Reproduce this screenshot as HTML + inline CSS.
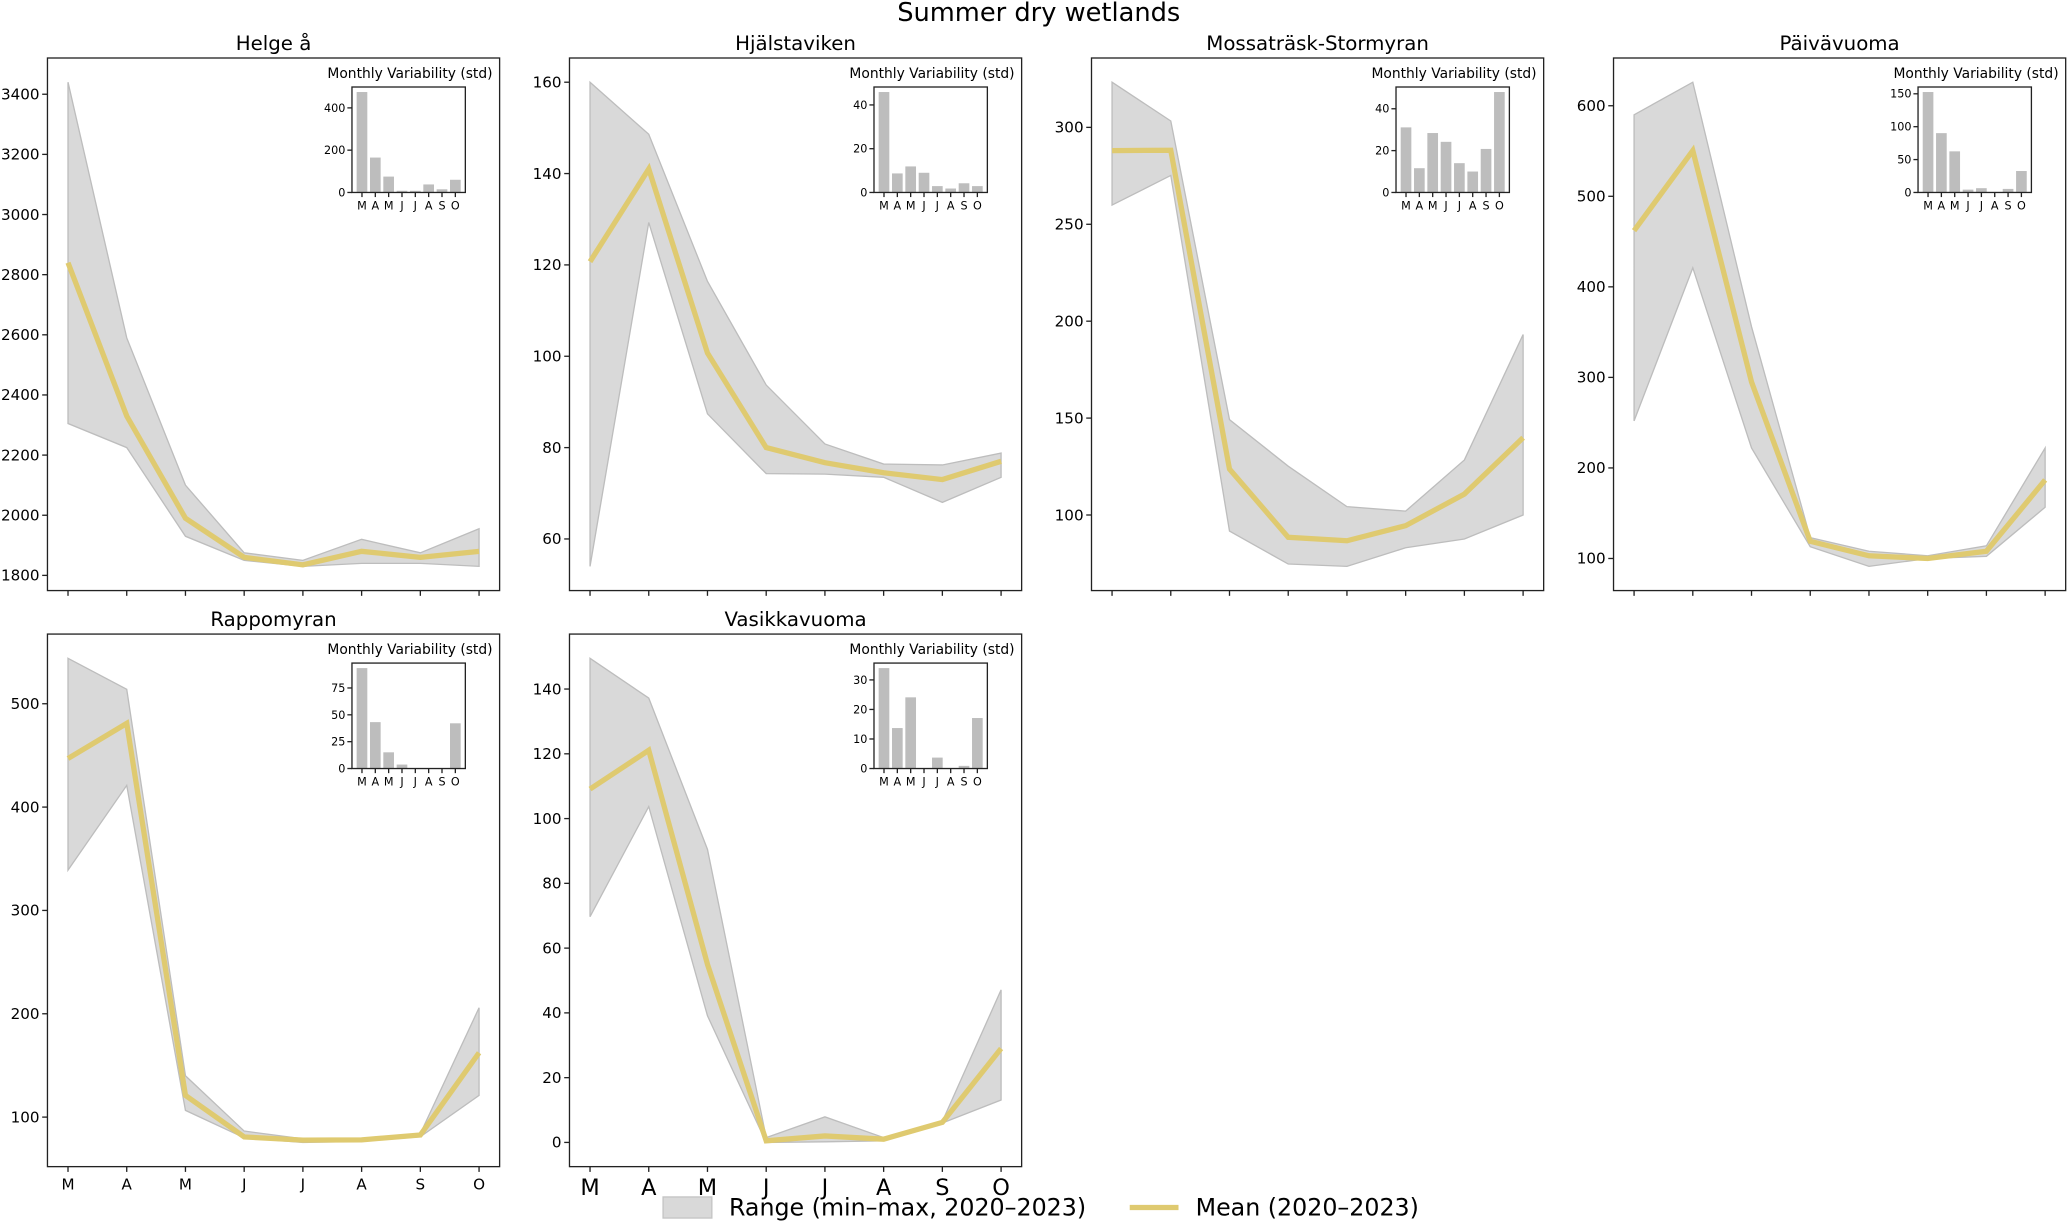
<!DOCTYPE html>
<html><head><meta charset="utf-8"><style>
html,body{margin:0;padding:0;background:#fff}
svg{display:block;font-family:"DejaVu Sans","Liberation Sans",sans-serif}
</style></head><body>
<svg id="chart" width="2067" height="1222" viewBox="0 0 1568 927" preserveAspectRatio="none" xmlns="http://www.w3.org/2000/svg">
<text x="788" y="16" text-anchor="middle" font-size="19.5">Summer dry wetlands</text>
<g>
<rect x="503" y="908" width="37" height="16" fill="#d9d9d9" stroke="#c4c4c4"/>
<text x="553" y="922" font-size="18">Range (min–max, 2020–2023)</text>
<line x1="857" y1="916" x2="894" y2="916" stroke="#dfca70" stroke-width="4"/>
<text x="907" y="922" font-size="18">Mean (2020–2023)</text>
</g>
</svg>
<script>
const months = ["M","A","M","J","J","A","S","O"];
const siteNames = ["Helge å","Hjälstaviken","Mossaträsk-Stormyran","Päivävuoma","Rappomyran","Vasikkavuoma"];
const meanHelge = [2840,2330,1990,1860,1835,1880,1860,1880];
const maxHelge = [3440,2590,2100,1875,1850,1920,1875,1955];
const minHelge = [2305,2225,1930,1850,1830,1840,1840,1830];
const stdHelge = [475,165,75,8,8,38,15,60];
const meanHjal = [120.7,141,100.7,80,76.7,74.5,73,77];
const maxHjal = [160,148.6,116.4,93.7,80.8,76.4,76.2,78.8];
const minHjal = [54,129.3,87.4,74.3,74.2,73.5,68,73.5];
const stdHjal = [45.9,8.7,11.9,9,2.9,1.8,4.2,2.9];
const meanMossa = [288,288.2,123.7,88.5,86.7,94.5,110.8,139.9];
const maxMossa = [323.3,303.3,149.2,125.2,104.3,102,128.4,193.1];
const minMossa = [259.9,275.2,91.7,74.7,73.5,83.1,87.6,100];
const stdMossa = [31.1,11.6,28.4,24.2,14,10,20.8,48];
const meanPaiv = [462,550.5,295,119,103,100,108,186.7];
const maxPaiv = [590,626,356,123,108,103,114,222];
const minPaiv = [252,421,222,113,91.3,100,102.4,156.6];
const stdPaiv = [152.7,90.2,62.5,4.3,6.5,0,5.4,32.6];
const meanRappo = [447,481,121,80.8,77.7,78,82.7,162.3];
const maxRappo = [544,514,140,86.5,79,79.5,84,205.8];
const minRappo = [339,421,106.5,80,75.5,76.5,81,121];
const stdRappo = [93.5,43.2,15.1,3.7,0.5,0.5,0.5,42.1];
const meanVasi = [109.1,121.1,55,0.5,2,1,6.2,29];
const maxVasi = [149.5,137.2,90.5,1.5,7.9,1.5,6.5,47.1];
const minVasi = [69.7,103.7,39.1,0,0.2,0.5,6,13.1];
const stdVasi = [34,13.7,24.1,0,3.7,0,0.9,17.1];
const yTicksHelge = [1800,2000,2200,2400,2600,2800,3000,3200,3400];
const yTicksHjal = [60,80,100,120,140,160];
const yTicksMossa = [100,150,200,250,300];
const yTicksPaiv = [100,200,300,400,500,600];
const yTicksRappo = [100,200,300,400,500];
const yTicksVasi = [0,20,40,60,80,100,120,140];
const insetTicksHelge = [0,200,400];
const insetTicksHjal = [0,20,40];
const insetTicksMossa = [0,20,40];
const insetTicksPaiv = [0,50,100,150];
const insetTicksRappo = [0,25,50,75];
const insetTicksVasi = [0,10,20,30];

const NS = "http://www.w3.org/2000/svg";
const svg = document.getElementById("chart");
function mk(tag, attrs, parent){
  const e = document.createElementNS(NS, tag);
  for (const k in attrs) e.setAttribute(k, attrs[k]);
  (parent||svg).appendChild(e);
  return e;
}
const panels = [
  {mean:meanHelge,max:maxHelge,min:minHelge,std:stdHelge,yt:yTicksHelge,it:insetTicksHelge,x0:36,y0:44,xl:0},
  {mean:meanHjal,max:maxHjal,min:minHjal,std:stdHjal,yt:yTicksHjal,it:insetTicksHjal,x0:432,y0:44,xl:0},
  {mean:meanMossa,max:maxMossa,min:minMossa,std:stdMossa,yt:yTicksMossa,it:insetTicksMossa,x0:828,y0:44,xl:0},
  {mean:meanPaiv,max:maxPaiv,min:minPaiv,std:stdPaiv,yt:yTicksPaiv,it:insetTicksPaiv,x0:1224,y0:44,xl:0},
  {mean:meanRappo,max:maxRappo,min:minRappo,std:stdRappo,yt:yTicksRappo,it:insetTicksRappo,x0:36,y0:481,xl:11.5},
  {mean:meanVasi,max:maxVasi,min:minVasi,std:stdVasi,yt:yTicksVasi,it:insetTicksVasi,x0:432,y0:481,xl:17}
];
const W = 343, H = 404;
panels.forEach((p, i) => {
  const g = mk("g", {});
  
  
  const lo = Math.min(...p.min, ...p.mean), hi = Math.max(...p.max, ...p.mean);
  const pad = (hi - lo) * 0.05;
  const yMin = lo - pad, yMax = hi + pad;
  const xs = v => p.x0 + (v + 0.35) / 7.7 * W;
  const ys = v => p.y0 + H - (v - yMin) / (yMax - yMin) * H;
  const t = mk("text", {x: p.x0 + W/2, y: p.y0 - 6, "text-anchor":"middle", "font-size":"15"}, g);
  t.textContent = siteNames[i];
  
  
  let d = "";
  p.max.forEach((v, k) => { d += (k ? "L" : "M") + xs(k) + " " + ys(v); });
  for (let k = p.min.length - 1; k >= 0; k--) d += "L" + xs(k) + " " + ys(p.min[k]);
  const band = mk("path", {d: d + "Z", fill:"#d9d9d9", stroke:"#bdbdbd", "stroke-width":"1"}, g);
  
  
  const pts = p.mean.map((v, k) => xs(k) + "," + ys(v)).join(" ");
  const ln = mk("polyline", {points: pts, fill:"none", stroke:"#dfca70", "stroke-width":"4", "stroke-linejoin":"miter"}, g);
  
  
  const fr = mk("rect", {x:p.x0, y:p.y0, width:W, height:H, fill:"none", stroke:"#222", "stroke-width":"1"}, g);
  
  
  p.yt.forEach(v => {
    const y = ys(v);
    mk("line", {x1:p.x0-4, x2:p.x0, y1:y, y2:y, stroke:"#222"}, g);
    const tl = mk("text", {x:p.x0-6, y:y+4, "text-anchor":"end", "font-size":"11.5"}, g);
    tl.textContent = v;
    
    
  });
  months.forEach((m, k) => {
    const x = xs(k);
    mk("line", {x1:x, x2:x, y1:p.y0+H, y2:p.y0+H+4, stroke:"#222"}, g);
    if (p.xl) {
      const tl = mk("text", {x:x, y:p.y0+H+8+p.xl*0.8, "text-anchor":"middle", "font-size":p.xl}, g);
      tl.textContent = m;
      
      
    }
  });
  const ig = mk("g", {}, g);
  
  
  const ix0 = p.x0 + W - 112, iy0 = p.y0 + 22, iw = 86, ih = 80;
  const iMax = Math.max(...p.std) * 1.05;
  const ixs = v => ix0 + (v + 0.75) / 8.5 * iw;
  const iys = v => iy0 + ih - v / iMax * ih;
  const it = mk("text", {x: ix0 + iw/2 + 1, y: iy0 - 7, "text-anchor":"middle", "font-size":"10.5"}, ig);
  it.textContent = "Monthly Variability (std)";
  
  
  p.std.forEach((v, k) => {
    const b = mk("rect", {x: ixs(k) - 0.4*iw/8.5, y: iys(v), width: 0.8*iw/8.5, height: Math.max(0, iy0 + ih - iys(v)), fill:"#bdbdbd"}, ig);
    
    
    const x = ixs(k);
    mk("line", {x1:x, x2:x, y1:iy0+ih, y2:iy0+ih+3.5, stroke:"#222"}, ig);
    const tl = mk("text", {x:x, y:iy0+ih+13, "text-anchor":"middle", "font-size":"8.5"}, ig);
    tl.textContent = months[k];
    
    
  });
  p.it.forEach(v => {
    const y = iys(v);
    mk("line", {x1:ix0-3.5, x2:ix0, y1:y, y2:y, stroke:"#222"}, ig);
    const tl = mk("text", {x:ix0-5, y:y+3, "text-anchor":"end", "font-size":"8.5"}, ig);
    tl.textContent = v;
    
    
  });
  mk("rect", {x:ix0, y:iy0, width:iw, height:ih, fill:"none", stroke:"#222", "stroke-width":"1"}, ig);
});
</script>
</body></html>
